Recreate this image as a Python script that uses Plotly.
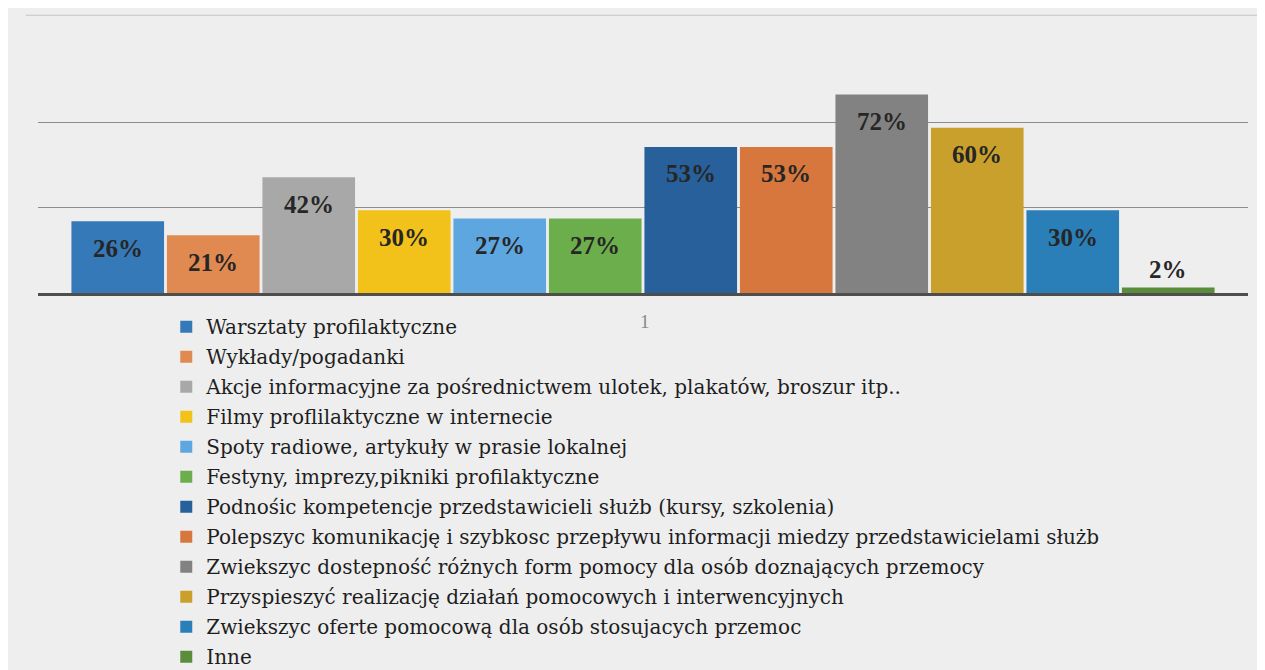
import plotly.graph_objects as go

# Data
categories = [
    "Warsztaty profilaktyczne",
    "Wykłady/pogadanki",
    "Akcje informacyjne za pośrednictwem ulotek, plakatów, broszur itp..",
    "Filmy proflilaktyczne w internecie",
    "Spoty radiowe, artykuły w prasie lokalnej",
    "Festyny, imprezy,pikniki profilaktyczne",
    "Podnośic kompetencje przedstawicieli służb (kursy, szkolenia)",
    "Polepszyc komunikację i szybkosc przepływu informacji miedzy przedstawicielami służb",
    "Zwiekszyc dostepność różnych form pomocy dla osób doznających przemocy",
    "Przyspieszyć realizację działań pomocowych i interwencyjnych",
    "Zwiekszyc oferte pomocową dla osób stosujacych przemoc",
    "Inne",
]
values = [0.26, 0.21, 0.42, 0.30, 0.27, 0.27, 0.53, 0.53, 0.72, 0.60, 0.30, 0.02]
colors = ["#3579b8", "#e08a52", "#a8a8a8", "#f2c21a", "#5ea6e0", "#6cae4c",
          "#27609a", "#d7773e", "#828282", "#c9a02c", "#2a7fb8", "#5b8c3c"]
grid_values = [0.31, 0.62]

fig = go.Figure()

for i, (name, v, c) in enumerate(zip(categories, values, colors)):
    fig.add_trace(go.Bar(
        x=[i], y=[v], name=name, width=0.97, legendgroup=str(i),
        marker=dict(color=c, line=dict(width=0)),
        hovertemplate=f"{name}: {v:.0%}<extra></extra>",
    ))
    # data labels: inside near the top, or above very small bars
    fig.add_annotation(
        x=i, y=v, text=f"{v:.0%}", showarrow=False,
        yanchor="middle", yshift=18 if v < 0.05 else -27,
        font=dict(family="Liberation Serif", size=25, color="#262626", weight="bold"),
    )

# page number from the scanned document
fig.add_annotation(xref="paper", yref="paper", x=0.502, y=-0.166, text="1",
                   showarrow=False, font=dict(family="Liberation Serif", size=19, color="#8a8a8a"))

# faint top border of the chart area
fig.add_shape(type="line", xref="paper", yref="paper", x0=-0.01, x1=1.02, y0=1.12, y1=1.12,
              line=dict(color="#c4c4c4", width=1))

fig.update_layout(
    width=1257, height=662,
    margin=dict(l=30, r=17, t=37, b=377, autoexpand=False),
    paper_bgcolor="#eeeeee",
    plot_bgcolor="rgba(0,0,0,0)",
    showlegend=True,
    legend=dict(
        orientation="v", x=0.106, y=-0.057, xanchor="left", yanchor="top",
        font=dict(family="DejaVu Serif", size=20, color="#1e1e1e"),
        bgcolor="rgba(0,0,0,0)", tracegroupgap=1, maxheight=1,
    ),
    font=dict(family="Liberation Serif"),
)
fig.update_xaxes(range=[-0.835, 11.835], showticklabels=False, showgrid=False,
                 zeroline=False, showline=True, linecolor="#4e4e4e", linewidth=3, ticks="")
fig.update_yaxes(range=[0, 0.9], tickvals=grid_values, showticklabels=False,
                 showgrid=True, gridcolor="#8c8c8c", gridwidth=1, zeroline=False, ticks="")

fig.write_html("out.html")
